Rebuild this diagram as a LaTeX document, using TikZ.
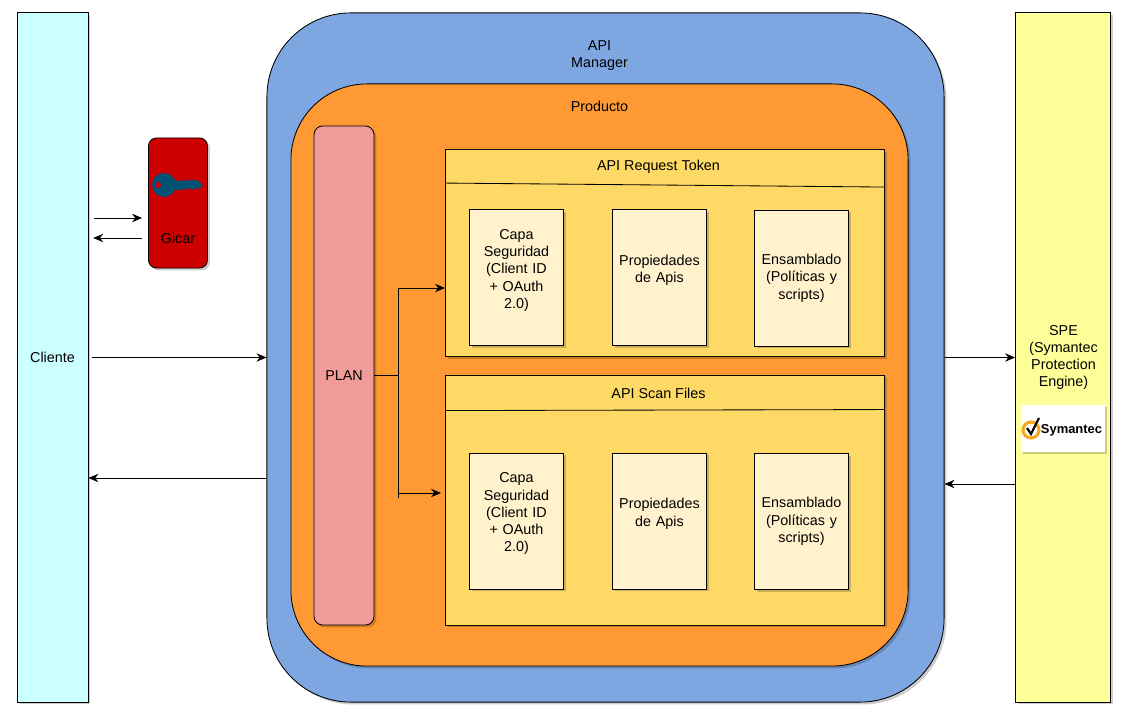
\documentclass[tikz,border=0pt]{standalone}
\usepackage{fontspec}
\setmainfont{Liberation Sans}
\usetikzlibrary{shadows,arrows.meta}
\definecolor{clientecolor}{HTML}{CCFFFF}
\definecolor{specolor}{HTML}{FFFF99}
\definecolor{managercolor}{HTML}{7EA6E0}
\definecolor{productocolor}{HTML}{FF9933}
\definecolor{plancolor}{HTML}{F19C99}
\definecolor{apicolor}{HTML}{FFD966}
\definecolor{innercolor}{HTML}{FFF2CC}
\definecolor{gicarcolor}{HTML}{CC0000}
\definecolor{keycolor}{HTML}{005073}
\definecolor{symcolor}{HTML}{F5A623}
\tikzset{
	softshadow/.style={drop shadow={shadow xshift=0.06cm, shadow yshift=-0.06cm, opacity=0.2, fill=black}},
	panel/.style={draw, line width=0.6pt, softshadow, align=center, inner sep=0pt},
	innerbox/.style={panel, fill=innercolor, minimum width=2.35cm, minimum height=3.4cm, text width=2.2cm},
}
\begin{document}
\begin{tikzpicture}[x=0.025cm, y=-0.025cm, >={Stealth[length=2.5mm,width=2.1mm]}, line width=0.6pt, font=\fontsize{10.2}{12.3}\selectfont]
	\useasboundingbox (0,0) rectangle (1131,714);

	\node[panel, fill=clientecolor, minimum width=1.775cm, minimum height=17.225cm] at (52.5,357.5) (cliente) {Cliente};
	\node[panel, fill=specolor, minimum width=2.375cm, minimum height=17.225cm] at (1063,357.5) (spe) {};
	\node[panel, fill=managercolor, rounded corners=2.1cm, minimum width=16.925cm, minimum height=17.225cm] at (605.5,357.5) (manager) {};
	\node[align=center] at (599.5,55.5) (managertext) {API\\Manager};
	\node[panel, fill=productocolor, rounded corners=1.9cm, minimum width=15.425cm, minimum height=14.55cm] at (599.5,375) (producto) {};
	\node[] at (599.5,106.5) (productotext) {Producto};
	\node[panel, fill=plancolor, rounded corners=0.22cm, minimum width=1.5cm, minimum height=12.475cm] at (344,375.5) (plan) {PLAN};

	\node[panel, fill=apicolor, minimum width=10.975cm, minimum height=5.175cm] at (665,253) (tokenbox) {};
	\node[] at (658.5,167) (tokentitle) {API Request Token};
	\node[innerbox] at (516.5,277.5) (tokencapa) {Capa\\Seguridad\\(Client ID\\+ OAuth\\2.0)\\~};
	\node[innerbox] at (659.5,277.5) (tokenprop) {Propiedades\\de Apis\\~};
	\node[innerbox] at (801.5,278) (tokenens) {Ensamblado\\(Políticas y\\scripts)};

	\node[panel, fill=apicolor, minimum width=10.975cm, minimum height=6.25cm] at (665,500) (scanbox) {};
	\node[] at (658.5,393) (scantitle) {API Scan Files};
	\node[innerbox] at (516.5,521) (scancapa) {Capa\\Seguridad\\(Client ID\\+ OAuth\\2.0)\\~};
	\node[innerbox] at (659.5,521) (scanprop) {Propiedades\\de Apis\\~};
	\node[innerbox] at (801.5,521.5) (scanens) {Ensamblado\\(Políticas y\\scripts)};

	\node[panel, fill=gicarcolor, rounded corners=0.2cm, minimum width=1.475cm, minimum height=3.25cm] at (178,203) (gicar) {};
	\node[] at (178,238) (gicartext) {Gicar};
	\fill[keycolor] (170,181) -- (197,180) -- (203,185) -- (199,189) -- (195,188) -- (193,190) -- (190,188) -- (188,190) -- (185,188) -- (183,190) -- (170,190) -- cycle;
	\fill[keycolor] (164,185) circle (12);
	\fill[gicarcolor] (158,185) circle (3);

	\node[text width=2.1cm, align=center] at (1063.5,357.5) (spelabel) {SPE\\(Symantec\\Protection\\Engine)};
	\node[fill=white, softshadow, minimum width=2.1cm, minimum height=1.175cm, inner sep=0pt] at (1063,428.5) (symlogo) {};
	\draw[symcolor, line width=2.2pt] (1031,430) circle (8);
	\draw[black, line width=1.5pt] (1027,428) -- (1031,434) -- (1039,418);
	\node[inner sep=0pt, font=\bfseries\fontsize{9.2}{11}\selectfont] at (1071.5,430) (symtext) {Symantec};

	\coordinate (gicarin) at (0,218);
	\coordinate (gicarout) at (0,238);
	\coordinate (clienteback) at (0,478);
	\coordinate (speback) at (0,484);
	\coordinate (planbus) at (398,375);
	\coordinate (bustop) at (398,288);
	\coordinate (busbot) at (398,498);
	\coordinate (busscany) at (0,493);

	\draw [->, shorten <=0.15cm, shorten >=0.15cm] (gicarin -| cliente.east) -- (gicarin -| gicar.west);
	\draw [->, shorten <=0.15cm, shorten >=0.12cm] (gicarout -| gicar.west) -- (gicarout -| cliente.east);
	\draw [->, shorten <=0.1cm] (cliente.east) -- (manager.west);
	\draw [->] (clienteback -| manager.west) -- (clienteback -| cliente.east);
	\draw [->] (manager.east) -- (spe.west);
	\draw [->] (speback -| spe.west) -- (speback -| manager.east);
	\draw (plan.east |- planbus) -- (planbus);
	\draw (bustop) -- (busbot);
	\draw [->] (bustop) -- (bustop -| tokenbox.west);
	\draw [->, shorten >=0.1cm] (busscany -| bustop) -- (busscany -| scanbox.west);
	\draw ([yshift=-0.85cm]tokenbox.north west) -- ([yshift=-0.95cm]tokenbox.north east);
	\draw ([yshift=-0.9cm]scanbox.north west) -- ([yshift=-0.875cm]scanbox.north east);
\end{tikzpicture}
\end{document}
